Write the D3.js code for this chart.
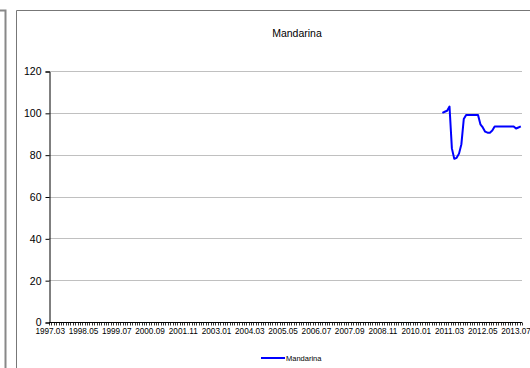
<!DOCTYPE html>
<html>
<head>
<meta charset="utf-8">
<script src="https://cdn.jsdelivr.net/npm/d3@7"></script>
<style>
  html, body { margin: 0; padding: 0; background: #fff; }
  svg { display: block; font-family: Arial, "Liberation Sans", sans-serif; }
</style>
</head>
<body>
<svg id="chart" width="530" height="368"></svg>
<script>
// Monthly categories 1997.03 .. 2013.09
const startYear = 1997, startMonth = 3, monthCount = 199;
const months = d3.range(monthCount).map(i => {
  const m = startMonth - 1 + i;
  const y = startYear + Math.floor(m / 12);
  const mm = (m % 12) + 1;
  return y + "." + String(mm).padStart(2, "0");
});

// Labelled months on the category axis
const xTickLabels = ["1997.03","1998.05","1999.07","2000.09","2001.11","2003.01","2004.03",
  "2005.05","2006.07","2007.09","2008.11","2010.01","2011.03","2012.05","2013.07"];
const yTicks = [0, 20, 40, 60, 80, 100, 120];

// Mandarina series, 2010.12 .. 2013.09
const seriesStart = "2010.12";
const mandarina = [100, 100.5, 101, 103, 83, 78, 78.5, 80.5, 85, 97,
  99, 99, 99, 99, 99, 99, 94.5, 93, 91, 90.5,
  90.5, 91.5, 93.5, 93.5, 93.5, 93.5, 93.5, 93.5, 93.5, 93.5,
  93.5, 92.5, 93, 93.5];
const seriesName = "Mandarina";

const svg = d3.select("#chart");

// Frames of the chart and its neighbour on the left
svg.append("path").attr("d", "M0,10.5 H5.5 V368").attr("fill", "none")
  .attr("stroke", "#888").attr("stroke-width", 2);
svg.append("path").attr("d", "M16.5,368 V10.5 H530").attr("fill", "none")
  .attr("stroke", "#777").attr("stroke-width", 1);

const plot = { left: 49, right: 522, top: 71, bottom: 322 };

const x = d3.scaleBand().domain(months).range([plot.left, plot.right]).padding(0);
const y = d3.scaleLinear().domain([0, 120]).range([plot.bottom, plot.top]);

// Gridlines
svg.append("g").selectAll("line").data(yTicks.filter(d => d > 0)).join("line")
  .attr("x1", plot.left).attr("x2", plot.right)
  .attr("y1", d => Math.round(y(d)) + 0.5).attr("y2", d => Math.round(y(d)) + 0.5)
  .attr("stroke", "#c0c0c0").attr("stroke-width", 1);

// Y axis
const yAxis = svg.append("g").attr("transform", `translate(${plot.left + 0.5},0.5)`)
  .call(d3.axisLeft(y).tickValues(yTicks).tickSize(4).tickPadding(4));
yAxis.selectAll("text").attr("font-size", 10.5).attr("fill", "#000");
yAxis.selectAll("line, path").attr("stroke", "#000");

// X axis: a tick at every category boundary, labels every 14 months
const xg = svg.append("g").attr("transform", `translate(0,${plot.bottom + 0.5})`);
xg.append("line").attr("x1", plot.left).attr("x2", plot.right).attr("stroke", "#000");
xg.selectAll("line.tick").data(months.concat(["end"])).join("line").attr("class", "tick")
  .attr("x1", (d, i) => Math.round(plot.left + i * x.bandwidth()) + 0.5)
  .attr("x2", (d, i) => Math.round(plot.left + i * x.bandwidth()) + 0.5)
  .attr("y1", 0).attr("y2", 3).attr("stroke", "#000").attr("stroke-width", 0.8);
xg.selectAll("text").data(xTickLabels).join("text")
  .attr("x", d => x(d) + x.bandwidth() / 2)
  .attr("y", 11.5).attr("text-anchor", "middle")
  .attr("font-size", 8.2).attr("fill", "#000").text(d => d);

// Title
svg.append("text").attr("x", 297).attr("y", 37).attr("text-anchor", "middle")
  .attr("font-size", 10.5).attr("fill", "#000").text("Mandarina");

// Series line
const i0 = months.indexOf(seriesStart);
const points = mandarina.map((v, k) => ({ m: months[i0 + k], v }));
const line = d3.line().x(d => x(d.m) + x.bandwidth() / 2).y(d => y(d.v));
svg.append("path").datum(points).attr("d", line)
  .attr("fill", "none").attr("stroke", "#0000ff").attr("stroke-width", 2)
  .attr("stroke-linejoin", "round");

// Legend
const lg = svg.append("g").attr("transform", "translate(0,358)");
lg.append("line").attr("x1", 261).attr("x2", 285).attr("y1", 0).attr("y2", 0)
  .attr("stroke", "#0000ff").attr("stroke-width", 2);
lg.append("text").attr("x", 286).attr("y", 2.5).attr("font-size", 7.5)
  .attr("fill", "#000").text(seriesName);
</script>
</body>
</html>
